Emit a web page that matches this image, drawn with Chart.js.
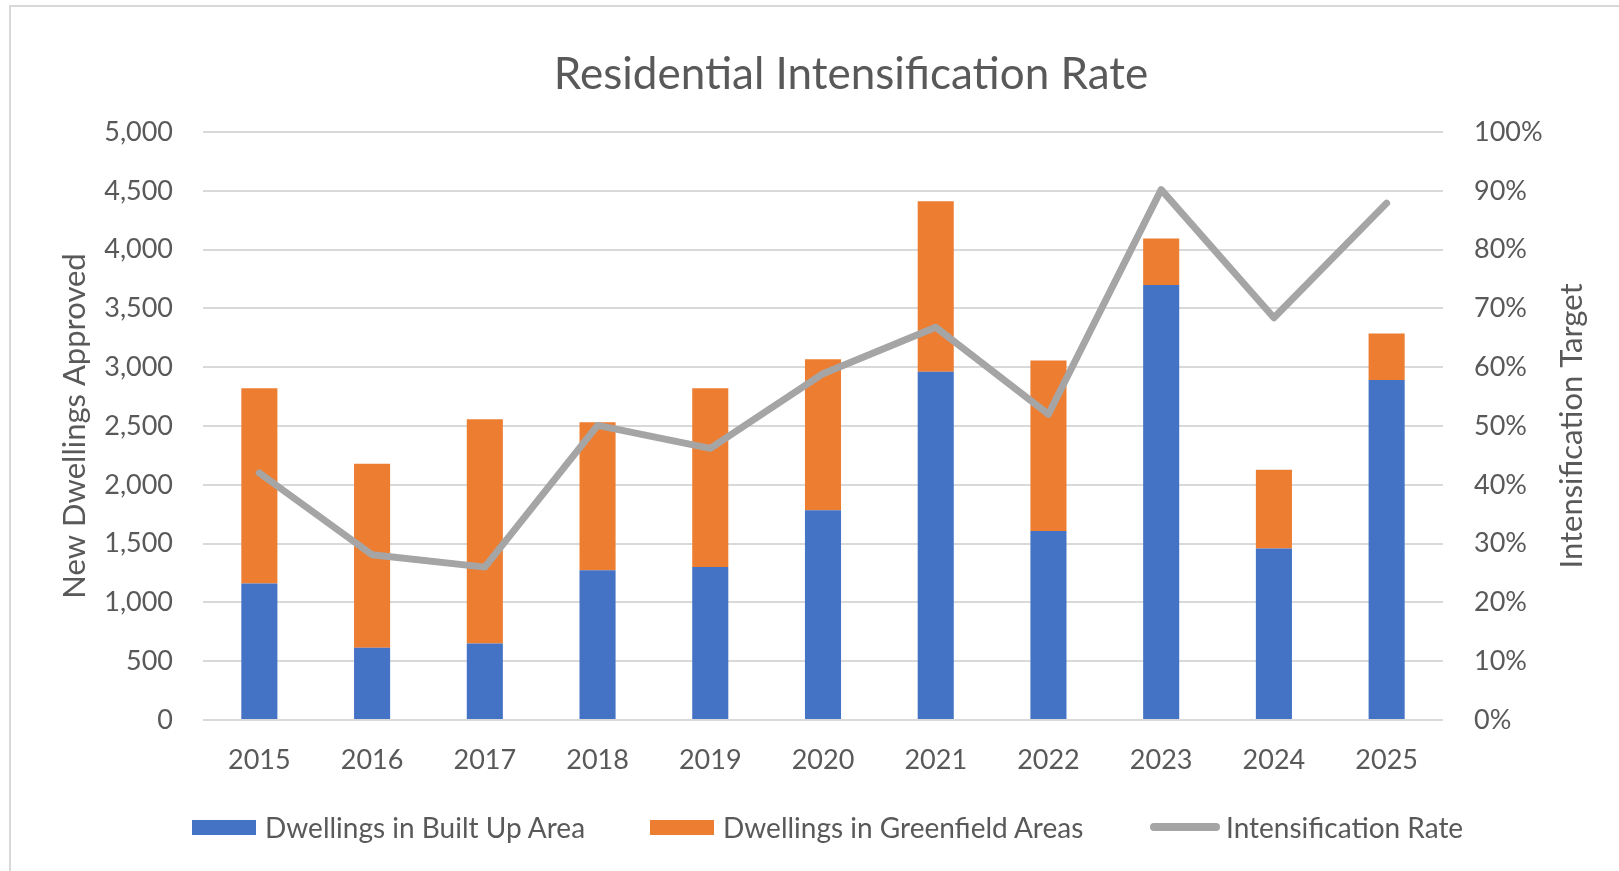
<!DOCTYPE html>
<html>
<head>
<meta charset="utf-8">
<script src="https://cdn.jsdelivr.net/npm/chart.js@4.4.1/dist/chart.umd.min.js"></script>
<style>
  html, body { margin: 0; padding: 0; background: #fff; overflow: hidden; }
  #wrap { position: relative; width: 1619px; height: 871px; }
  #frame { position: absolute; left: 9px; top: 5px; width: 1700px; height: 900px; border: 2px solid #d9d9d9; box-sizing: border-box; }
  #c1 { position: absolute; left: 0; top: 0; }
  .legend { position: absolute; top: 812px; height: 30px; display: flex; align-items: center; font-family: Lato, sans-serif; font-size: 28px; color: #595959; white-space: nowrap; }
  .legend .sw { width: 64px; height: 15px; margin-right: 9px; }
  .legend .ln { width: 70px; height: 8px; border-radius: 4px; margin-right: 6px; }
</style>
</head>
<body>
<div id="wrap">
  <div id="frame"></div>
  <canvas id="c1" width="1619" height="871"></canvas>
  <div id="legend"></div>
</div>
<script>
const years = ['2015', '2016', '2017', '2018', '2019', '2020', '2021', '2022', '2023', '2024', '2025'];
const builtUp = [1160, 615, 650, 1274, 1300, 1784, 2961, 1608, 3699, 1459, 2891];
const greenfield = [1661, 1564, 1907, 1257, 1521, 1283, 1450, 1450, 396, 668, 395];
const intensRate = [42.0, 28.1, 26.0, 50.1, 46.2, 58.9, 66.8, 52.0, 90.2, 68.4, 87.9];

const chartTitle = 'Residential Intensification Rate';
const rightAxisTitle = 'Intensification Target';

const textColor = '#595959';
const gridColor = '#d9d9d9';
const colors = { built: '#4472c4', green: '#ed7d31', rate: '#a5a5a5' };

const legendItems = [
    { label: 'Dwellings in Built Up Area', color: colors.built, type: 'box', left: 192 },
    { label: 'Dwellings in Greenfield Areas', color: colors.green, type: 'box', left: 650 },
    { label: 'Intensification Rate', color: colors.rate, type: 'line', left: 1150 }
];

// title sits a bit right of the canvas centre, and Excel puts the right axis
// title bottom-to-top (Chart.js turns it the other way) -> draw both here
const extraText = {
    id: 'extraText',
    afterDraw(chart) {
        const ctx = chart.ctx;
        const scale = chart.scales.y1;
        ctx.save();
        ctx.fillStyle = textColor;
        ctx.textAlign = 'center';
        ctx.textBaseline = 'middle';

        ctx.font = '44px Lato';
        ctx.fillText(chartTitle, 851, 75);

        ctx.font = '31px Lato';
        ctx.translate(scale.right - 22, (scale.top + scale.bottom) / 2);
        ctx.rotate(-Math.PI / 2);
        ctx.fillText(rightAxisTitle, 0, 0);
        ctx.restore();
    }
};

document.addEventListener("DOMContentLoaded", function () {
    const canvas = document.getElementById('c1');

    new Chart(canvas, {
        data: {
            labels: years,
            datasets: [
                {
                    type: 'line',
                    label: 'Intensification Rate',
                    data: intensRate,
                    yAxisID: 'y1',
                    borderColor: colors.rate,
                    backgroundColor: colors.rate,
                    borderWidth: 7,
                    borderCapStyle: 'round',
                    borderJoinStyle: 'round',
                    pointRadius: 0,
                    tension: 0,
                    order: 0
                },
                {
                    type: 'bar',
                    label: 'Dwellings in Built Up Area',
                    data: builtUp,
                    yAxisID: 'y',
                    backgroundColor: colors.built,
                    barPercentage: 0.32,
                    categoryPercentage: 1,
                    order: 1
                },
                {
                    type: 'bar',
                    label: 'Dwellings in Greenfield Areas',
                    data: greenfield,
                    yAxisID: 'y',
                    backgroundColor: colors.green,
                    barPercentage: 0.32,
                    categoryPercentage: 1,
                    order: 1
                }
            ]
        },
        options: {
            responsive: false,
            animation: false,
            layout: { padding: { left: 53, right: 25, top: 132, bottom: 95 } },
            plugins: {
                legend: { display: false },
                tooltip: { enabled: false },
                title: { display: false }
            },
            scales: {
                x: {
                    stacked: true,
                    grid: { display: false, drawTicks: false },
                    border: { display: false },
                    ticks: { color: textColor, font: { family: 'Lato', size: 27 }, padding: 24 },
                    afterFit: function (scale) { scale.height = 56; }
                },
                y: {
                    stacked: true,
                    position: 'left',
                    min: 0,
                    max: 5000,
                    ticks: {
                        stepSize: 500,
                        color: textColor,
                        font: { family: 'Lato', size: 27 },
                        padding: 30,
                        callback: function (value) { return value.toLocaleString('en-US'); }
                    },
                    grid: { color: gridColor, lineWidth: 2, drawTicks: false },
                    border: { display: false },
                    title: {
                        display: true,
                        text: 'New Dwellings Approved',
                        color: textColor,
                        font: { family: 'Lato', size: 31 },
                        padding: { top: 3, bottom: 4 }
                    },
                    afterFit: function (scale) { scale.width = 150; }
                },
                y1: {
                    position: 'right',
                    min: 0,
                    max: 100,
                    ticks: {
                        stepSize: 10,
                        color: textColor,
                        font: { family: 'Lato', size: 27 },
                        padding: 31,
                        callback: function (value) { return value + '%'; }
                    },
                    grid: { display: false, drawTicks: false },
                    border: { display: false },
                    title: { display: false },
                    afterFit: function (scale) { scale.width = 151; }
                }
            }
        },
        plugins: [extraText]
    });

    const legend = document.getElementById('legend');
    legendItems.forEach(function (item) {
        const el = document.createElement('div');
        el.className = 'legend';
        el.style.left = item.left + 'px';
        const mark = document.createElement('div');
        mark.className = item.type === 'box' ? 'sw' : 'ln';
        mark.style.background = item.color;
        const txt = document.createElement('span');
        txt.textContent = item.label;
        el.appendChild(mark);
        el.appendChild(txt);
        legend.appendChild(el);
    });
});
</script>
</body>
</html>
